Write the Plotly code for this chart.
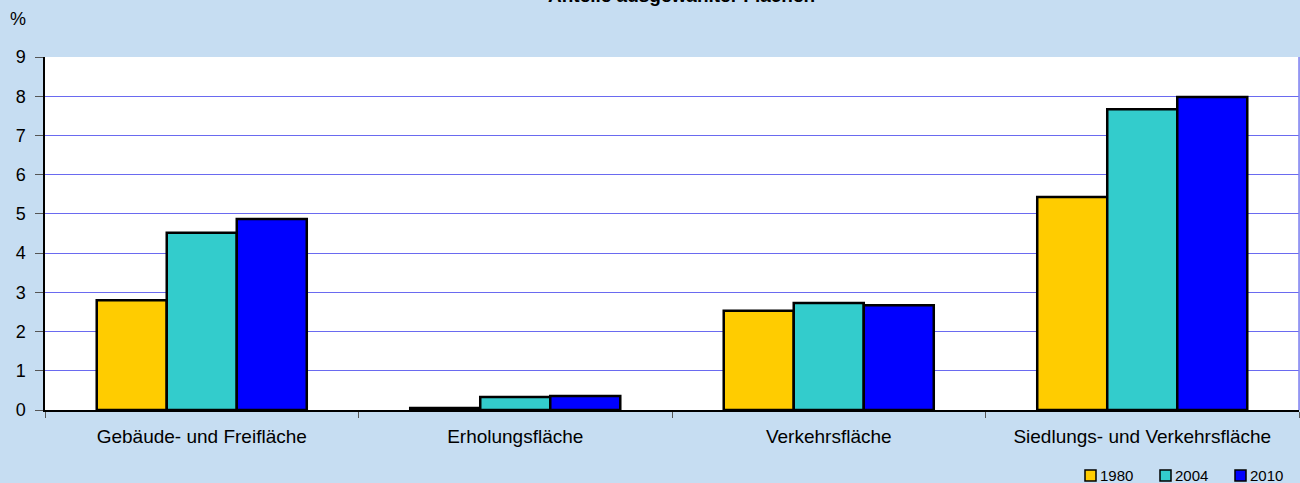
import plotly.graph_objects as go

categories = ["Gebäude- und Freifläche", "Erholungsfläche", "Verkehrsfläche", "Siedlungs- und Verkehrsfläche"]
years = ["1980", "2004", "2010"]
v1980 = [2.80, 0.05, 2.53, 5.43]
v2004 = [4.52, 0.33, 2.73, 7.67]
v2010 = [4.87, 0.36, 2.67, 7.98]
colors = ["#FFCC00", "#33CCCC", "#0000FF"]
tick_vals = [0, 1, 2, 3, 4, 5, 6, 7, 8, 9]

W, H = 1300, 483
ML, MR, MT, MB = 45, 1, 57, 73
PW, PH = W - ML - MR, H - MT - MB
FONT = "Liberation Sans, Arial"

def px(x):
    return (x - ML) / PW

def py(y):
    return (H - MB - y) / PH

fig = go.Figure()
for name, vals, col in zip(years, [v1980, v2004, v2010], colors):
    fig.add_trace(go.Bar(x=categories, y=vals, name=name,
                         marker=dict(color=col, line=dict(color="black", width=2.5))))

fig.update_layout(
    width=W, height=H,
    paper_bgcolor="#C6DDF2", plot_bgcolor="white",
    margin=dict(l=ML, r=MR, t=MT, b=MB, pad=0),
    barmode="group", bargap=0.33, bargroupgap=0,
    font=dict(family=FONT, size=19, color="black"),
    showlegend=False,
)
fig.update_xaxes(showline=True, linecolor="black", linewidth=1.5, mirror=False,
                 ticks="outside", tickson="boundaries", ticklen=6, tickcolor="#555",
                 showgrid=False, tickfont=dict(size=19), ticklabelstandoff=8)
fig.update_yaxes(range=[0, 9], tickvals=tick_vals, showline=True, linecolor="black",
                 linewidth=1.5, ticks="outside", ticklen=8, tickcolor="#555",
                 gridcolor="#6A6AF0", gridwidth=1, zeroline=False,
                 tickfont=dict(size=18), ticklabelstandoff=6)
fig.add_shape(type="line", xref="paper", yref="paper", x0=1, x1=1, y0=0, y1=1,
              line=dict(color="#8080F0", width=1.5))
fig.add_annotation(text="%", xref="paper", yref="paper", x=px(18), y=py(19),
                   xanchor="center", yanchor="middle", showarrow=False, font=dict(size=18))
fig.add_annotation(text="<b>Anteile ausgewählter Flächen</b>", xref="paper", yref="paper",
                   x=px(681), y=py(-4), xanchor="center", yanchor="middle", showarrow=False,
                   font=dict(size=19))

# legend (drawn manually to match the compact original)
leg_x0, leg_step, sq = 1085, 75, 11
for i, (name, col) in enumerate(zip(years, colors)):
    x0 = leg_x0 + i * leg_step
    fig.add_shape(type="rect", xref="paper", yref="paper",
                  x0=px(x0), x1=px(x0 + sq), y0=py(481), y1=py(470),
                  fillcolor=col, line=dict(color="black", width=1.5))
    fig.add_annotation(text=name, xref="paper", yref="paper", x=px(x0 + sq + 2), y=py(475),
                       xanchor="left", yanchor="middle", showarrow=False,
                       font=dict(size=15))

fig.write_html("out.html", config={"displayModeBar": False},
               post_script="document.body.style.margin='0';document.body.style.padding='0';document.body.style.overflow='hidden';")
